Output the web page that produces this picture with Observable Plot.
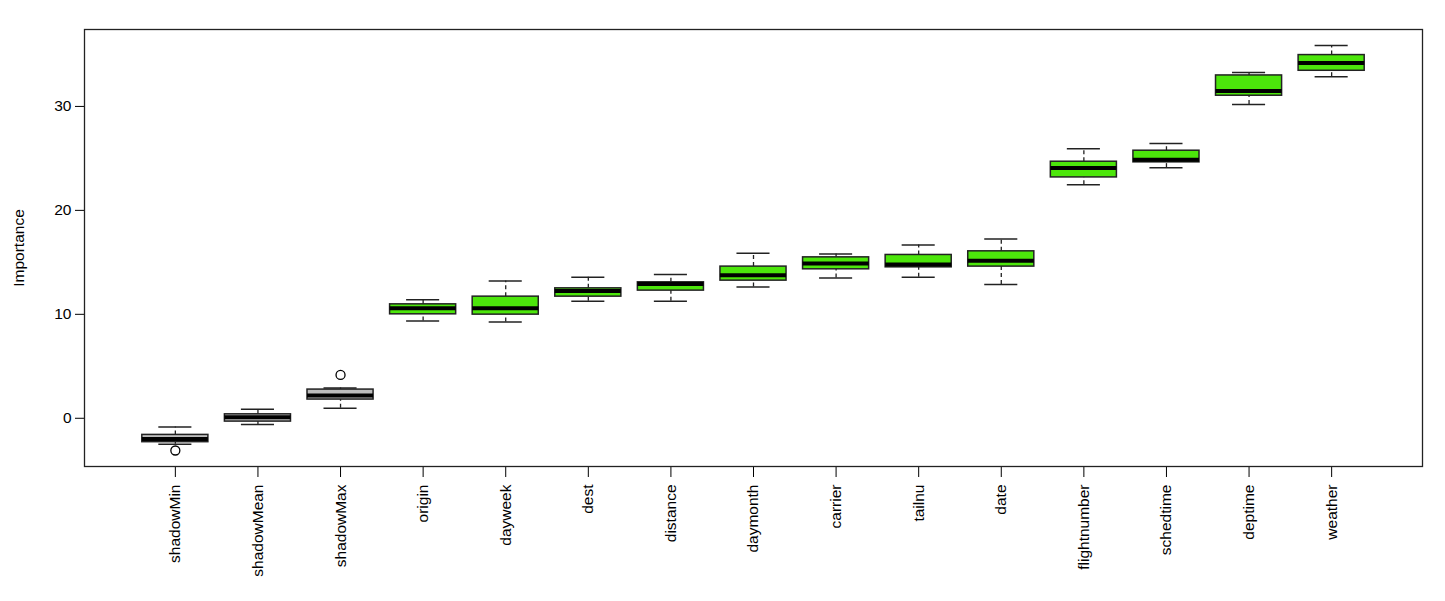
<!DOCTYPE html>
<html>
<head>
<meta charset="utf-8">
<script src="https://cdn.jsdelivr.net/npm/d3@7"></script>
<script src="https://cdn.jsdelivr.net/npm/@observablehq/plot@0.6"></script>
<style>
  html, body { margin: 0; padding: 0; background: #fff; }
  svg { display: block; font-family: "Liberation Sans", Arial, sans-serif; }
</style>
</head>
<body>
<div id="chart"></div>
<script>
const features = ["shadowMin","shadowMean","shadowMax","origin","dayweek","dest","distance","daymonth","carrier","tailnu","date","flightnumber","schedtime","deptime","weather"];
const lowWhisker = [-2.5, -0.6, 0.96, 9.36, 9.27, 11.25, 11.25, 12.63, 13.5, 13.56, 12.88, 22.47, 24.11, 30.19, 32.86];
const lowerQ     = [-2.3, -0.32, 1.8, 10.0, 9.97, 11.70, 12.28, 13.24, 14.33, 14.52, 14.59, 23.17, 24.62, 31.03, 33.43];
const medians    = [-2.0, 0.1, 2.18, 10.58, 10.58, 12.25, 12.92, 13.76, 14.88, 14.8, 15.16, 24.07, 24.88, 31.48, 34.17];
const upperQ     = [-1.6, 0.38, 2.76, 10.96, 11.70, 12.5, 13.08, 14.59, 15.48, 15.71, 16.06, 24.68, 25.74, 32.98, 34.94];
const highWhisker= [-0.83, 0.87, 2.92, 11.41, 13.21, 13.56, 13.82, 15.87, 15.8, 16.67, 17.25, 25.93, 26.44, 33.27, 35.87];
const kind       = ["shadow","shadow","shadow","confirmed","confirmed","confirmed","confirmed","confirmed","confirmed","confirmed","confirmed","confirmed","confirmed","confirmed","confirmed"];
const outlierFeature = ["shadowMin", "shadowMax"];
const outlierValue   = [-3.1, 4.17];
const yTicks = [0, 10, 20, 30];

const rows = features.map((f, i) => ({
  feature: f, lo: lowWhisker[i], q1: lowerQ[i], med: medians[i], q3: upperQ[i], hi: highWhisker[i], kind: kind[i]
}));
const outliers = outlierFeature.map((f, i) => ({feature: f, value: outlierValue[i]}));

const colorOf = {shadow: "#bdbdbd", confirmed: "#4ce60b"};
const FS = 15.5;

const chart = Plot.plot({
  width: 1445,
  height: 601,
  marginLeft: 84,
  marginRight: 23,
  marginTop: 29,
  marginBottom: 135,
  style: {fontFamily: '"Liberation Sans", Arial, sans-serif', fontSize: FS + "px", color: "#000", background: "#fff"},
  x: {type: "band", domain: features, paddingInner: 0.2, paddingOuter: 0.7, round: false, label: null},
  y: {domain: [-4.64, 37.4], label: null},
  marks: [
    Plot.ruleX(rows, {x: "feature", y1: "q3", y2: "hi", stroke: "#222", strokeWidth: 1.3, strokeDasharray: "4,3"}),
    Plot.ruleX(rows, {x: "feature", y1: "lo", y2: "q1", stroke: "#222", strokeWidth: 1.3, strokeDasharray: "4,3"}),
    Plot.tickY(rows, {x: "feature", y: "hi", stroke: "#222", strokeWidth: 1.5, insetLeft: 16.5, insetRight: 16.5}),
    Plot.tickY(rows, {x: "feature", y: "lo", stroke: "#222", strokeWidth: 1.5, insetLeft: 16.5, insetRight: 16.5}),
    Plot.barY(rows, {x: "feature", y1: "q1", y2: "q3", fill: d => colorOf[d.kind], stroke: "#222", strokeWidth: 1.5}),
    Plot.tickY(rows, {x: "feature", y: "med", stroke: "#000", strokeWidth: 4}),
    Plot.dot(outliers, {x: "feature", y: "value", r: 4.5, stroke: "#000", strokeWidth: 1.3, fill: "none"}),
    Plot.axisY({ticks: yTicks, tickSize: 9, tickPadding: 4, tickFormat: d3.format("d"), fontSize: FS, label: "Importance", labelAnchor: "center", labelArrow: "none", labelOffset: 72}),
    Plot.axisX({tickRotate: -90, tickSize: 11, tickPadding: 7, fontSize: FS, label: null}),
    Plot.frame({stroke: "#222", strokeWidth: 1.3})
  ]
});
document.getElementById("chart").appendChild(chart);
</script>
</body>
</html>
